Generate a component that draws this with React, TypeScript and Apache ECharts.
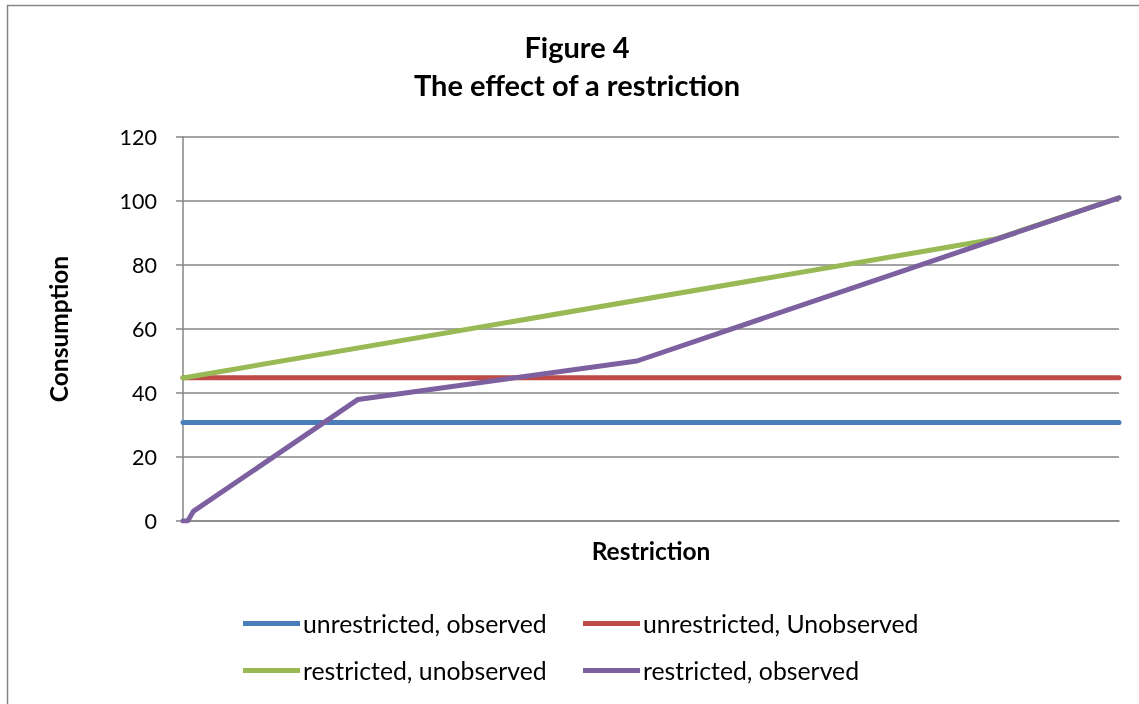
import React, { useEffect, useRef } from "react";
import * as echarts from "echarts";

const yTicks = [0, 20, 40, 60, 80, 100, 120];
const seriesNames = [
  "unrestricted, observed",
  "unrestricted, Unobserved",
  "restricted, unobserved",
  "restricted, observed",
];
const seriesColors = ["#4A7EBB", "#BE4B48", "#98B954", "#7D60A0"];
// x positions on a 0..100 restriction scale, y = consumption
const unrestrictedObserved: [number, number][] = [
  [0, 30.8],
  [100, 30.8],
];
const unrestrictedUnobserved: [number, number][] = [
  [0, 44.8],
  [100, 44.8],
];
const restrictedUnobserved: [number, number][] = [
  [0, 44.7],
  [86.8, 88.1],
  [100, 101],
];
const restrictedObserved: [number, number][] = [
  [0, 0],
  [0.5, 0],
  [1.1, 3],
  [18.7, 38],
  [48.5, 50],
  [100, 101],
];

const FONT = "Lato, 'Open Sans', sans-serif";

export default function App() {
  const ref = useRef<HTMLDivElement>(null);
  useEffect(() => {
    if (!ref.current) return;
    const chart = echarts.init(ref.current, null, { renderer: "svg" });
    const data = [
      unrestrictedObserved,
      unrestrictedUnobserved,
      restrictedUnobserved,
      restrictedObserved,
    ];
    const legendPos = [
      [243, 611],
      [583, 611],
      [243, 658],
      [583, 658],
    ];
    chart.setOption({
      animation: false,
      textStyle: { fontFamily: FONT },
      graphic: [
        {
          type: "rect",
          shape: { x: 7.5, y: 5.5, width: 1300, height: 900 },
          style: { fill: "#fff", stroke: "#868686", lineWidth: 1.5 },
          z: -10,
        },
        {
          type: "text",
          x: 577,
          y: 27,
          style: {
            text: "Figure 4\nThe effect of a restriction",
            textAlign: "center",
            fontFamily: FONT,
            fontWeight: "bold",
            fontSize: 29,
            lineHeight: 38,
            fill: "#000",
          },
        },
      ],
      grid: { left: 183, right: 20, top: 137, bottom: 183 },
      legend: seriesNames.map((n, i) => ({
        data: [n],
        left: legendPos[i][0],
        top: legendPos[i][1],
        icon: "rect",
        itemWidth: 57,
        itemHeight: 5,
        textStyle: {
          fontSize: 24.8,
          color: "#000",
          fontFamily: FONT,
          padding: [0, 0, 0, -2],
        },
        padding: 0,
      })),
      xAxis: {
        type: "value",
        min: 0,
        max: 100,
        name: "Restriction",
        nameLocation: "middle",
        nameGap: 17,
        nameTextStyle: { fontSize: 24.5, fontWeight: "bold", color: "#000" },
        axisLine: { show: true, lineStyle: { color: "#868686", width: 1.5 } },
        axisTick: { show: false },
        axisLabel: { show: false },
        splitLine: { show: false },
      },
      yAxis: {
        type: "value",
        min: yTicks[0],
        max: yTicks[yTicks.length - 1],
        interval: 20,
        name: "Consumption",
        nameLocation: "middle",
        nameGap: 112,
        nameTextStyle: { fontSize: 24.5, fontWeight: "bold", color: "#000" },
        axisLine: { show: true, lineStyle: { color: "#868686", width: 1.5 } },
        axisTick: { show: true, length: 7, lineStyle: { color: "#868686", width: 1.5 } },
        axisLabel: { fontSize: 21.5, color: "#000", margin: 26 },
        splitLine: { show: true, lineStyle: { color: "#868686", width: 1.5 } },
      },
      series: seriesNames.map((n, i) => ({
        name: n,
        type: "line",
        data: data[i],
        showSymbol: false,
        symbol: "none",
        color: seriesColors[i],
        lineStyle: { width: 5, color: seriesColors[i], cap: "round" },
        z: 2 + i,
      })),
    });
    return () => chart.dispose();
  }, []);
  return (
    <div
      ref={ref}
      style={{ position: "fixed", left: 0, top: 0, width: 1139, height: 704 }}
    />
  );
}
